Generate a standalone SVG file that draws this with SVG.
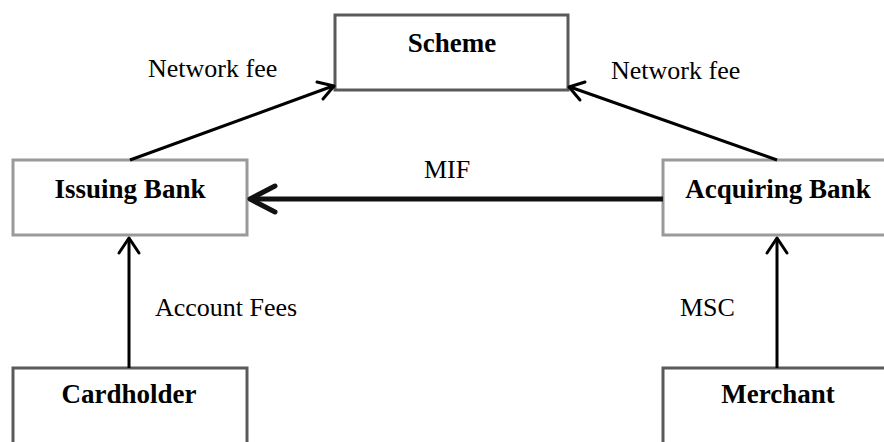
<svg xmlns="http://www.w3.org/2000/svg" width="884" height="442" viewBox="0 0 884 442">
<style>
.box{fill:#fff;stroke-width:3}
.dark{stroke:#5a5a5a}
.light{stroke:#9a9a9a}
.bl{font-family:"Liberation Serif","Times New Roman",serif;font-weight:bold;font-size:27px;fill:#000;text-anchor:middle}
.lb{font-family:"Liberation Serif","Times New Roman",serif;font-size:26px;fill:#000}
.ln{stroke:#000;stroke-width:3;fill:none}
.hd{stroke:#000;stroke-width:3;fill:none;stroke-linecap:round;stroke-linejoin:round}
</style>
<rect width="884" height="442" fill="#fff"/>
<g id="scheme"><rect class="box dark" x="335" y="15" width="233" height="75"/><text class="bl" x="452" y="52">Scheme</text></g>
<g id="issuing"><rect class="box light" x="13" y="160" width="234" height="75"/><text class="bl" x="130" y="198">Issuing Bank</text></g>
<g id="acquiring"><rect class="box light" x="663" y="160" width="240" height="75"/><text class="bl" x="778" y="198">Acquiring Bank</text></g>
<g id="cardholder"><rect class="box dark" x="13" y="368" width="234" height="90"/><text class="bl" x="129" y="403">Cardholder</text></g>
<g id="merchant"><rect class="box dark" x="663" y="368" width="240" height="90"/><text class="bl" x="778" y="403">Merchant</text></g>
<g id="connectors">
<line class="ln" x1="130" y1="160" x2="333" y2="86"/>
<polyline class="hd" points="317,82 334,86 323,99"/>
<line class="ln" x1="777" y1="160" x2="570" y2="87"/>
<polyline class="hd" points="585,82 569,87 580,100"/>
<line stroke="#111" stroke-width="5" x1="663" y1="199" x2="252" y2="199"/>
<polyline points="275,186 250,199 275,212" fill="none" stroke="#111" stroke-width="5" stroke-linecap="round" stroke-linejoin="round"/>
<line class="ln" x1="129" y1="368" x2="129" y2="239"/>
<polyline class="hd" points="119,253 129,238 139,253"/>
<line class="ln" x1="777" y1="368" x2="777" y2="239"/>
<polyline class="hd" points="767,253 777,238 787,253"/>
</g>
<g id="labels">
<text class="lb" x="148" y="77">Network fee</text>
<text class="lb" x="611" y="79">Network fee</text>
<text class="lb" x="424" y="178">MIF</text>
<text class="lb" x="155" y="316">Account Fees</text>
<text class="lb" x="680" y="316">MSC</text>
</g>
</svg>
